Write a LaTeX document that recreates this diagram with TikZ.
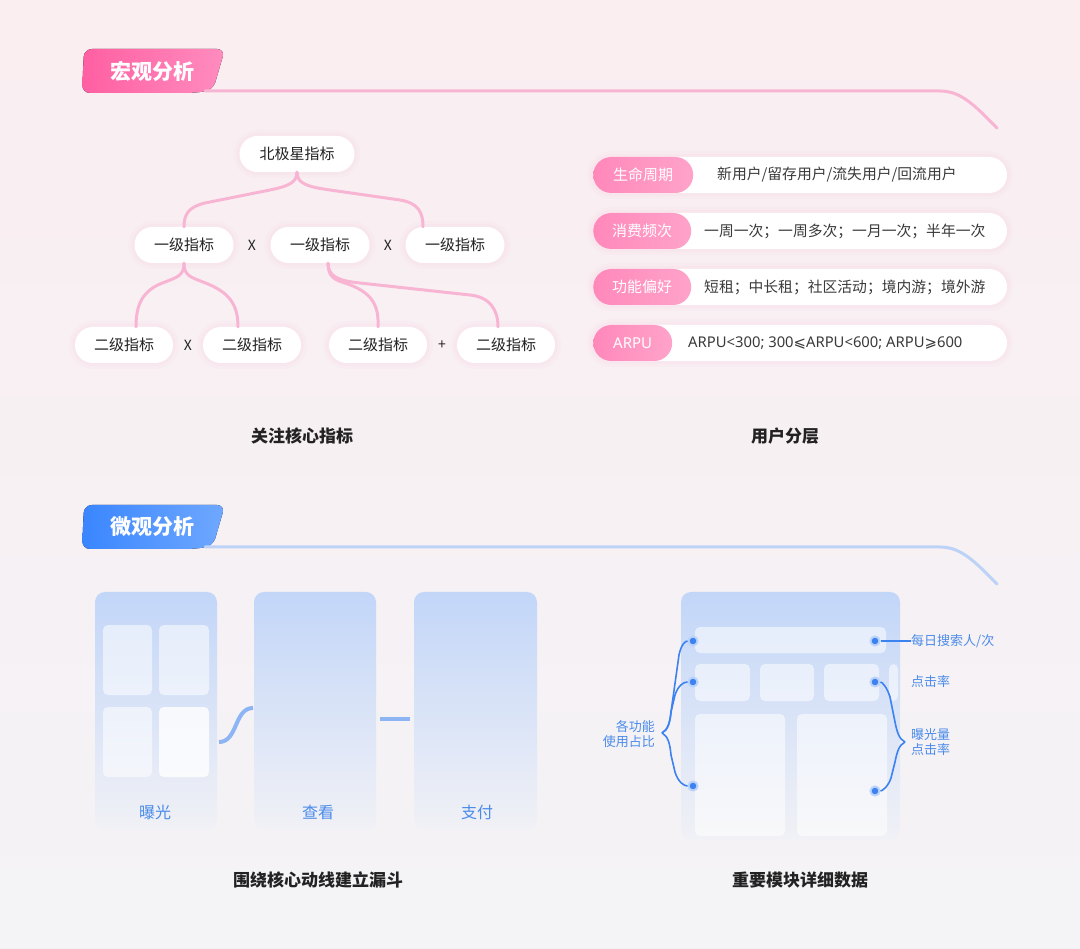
\documentclass[tikz,border=0pt]{standalone}
\usepackage{fontspec}
\setmainfont{Noto Sans CJK SC}
\newfontfamily\symf{DejaVu Sans}
\newfontfamily\latf{Noto Sans}
\usetikzlibrary{calc}
\definecolor{bgtop}{HTML}{FAEEF1}
\definecolor{bgbot}{HTML}{F4F3F6}
\definecolor{pinkA}{HTML}{FF5FA2}
\definecolor{pinkB}{HTML}{FF8CBE}
\definecolor{pinkline}{HTML}{F8B5D3}
\definecolor{pillA}{HTML}{FF88BA}
\definecolor{pillB}{HTML}{FFA3CA}
\definecolor{blueA}{HTML}{3A86FF}
\definecolor{blueB}{HTML}{6FA8FF}
\definecolor{blueline}{HTML}{BCD3F7}
\definecolor{panel}{HTML}{C2D6F8}
\definecolor{panelbot}{HTML}{F1F1F6}
\definecolor{bluetext}{HTML}{4A8BEA}
\definecolor{dotc}{HTML}{3C82F0}
\definecolor{conn}{HTML}{8DB5F5}
\definecolor{txt}{HTML}{222222}
\definecolor{txtgray}{HTML}{3A3A3A}
\tikzset{
  x=1pt,y=-1pt,
  glow/.style={preaction={draw=pinkline, line width=12pt, opacity=0.06},
               preaction={draw=pinkline, line width=6pt, opacity=0.08}},
  tn/.style={fill=white, rounded corners=18pt, minimum height=36pt, minimum width=99pt, inner sep=0pt,
    font=\fontsize{15}{15}\selectfont, text=txt, glow},
  tl/.style={draw=pinkline, line width=3pt, line cap=round},
  op/.style={font=\fontsize{14}{14}\selectfont, text=txt},
  rowbg/.style={fill=white, rounded corners=18pt, minimum height=36pt, minimum width=414pt, inner sep=0pt, glow},
  tag/.style={left color=pillA, right color=pillB, rounded corners=18pt, minimum height=36pt, inner sep=0pt,
    font=\fontsize{15}{15}\selectfont, text=white, anchor=west},
  rowtxt/.style={font=\fontsize{14.8}{14.8}\selectfont, text=txtgray, anchor=west, inner sep=0pt},
  captxt/.style={font=\fontsize{17}{17}\selectfont\bfseries, text=txt},
  hdr/.style={font=\fontsize{21}{21}\selectfont\bfseries, text=white},
  panelbox/.style={top color=panel, bottom color=panelbot, rounded corners=10pt, draw=none},
  card/.style={fill=white, fill opacity=0.55, rounded corners=5pt},
  flab/.style={font=\fontsize{16}{16}\selectfont, text=bluetext},
  mlab/.style={font=\fontsize{13}{15}\selectfont, text=bluetext, inner sep=0pt},
  dotn/.style={circle, fill=dotc, minimum size=9pt, inner sep=0pt, draw=dotc!35!white, line width=2pt},
  bl/.style={draw=dotc, line width=1.6pt},
  fc/.style={draw=conn, line width=4pt}
}
\begin{document}
\begin{tikzpicture}
\useasboundingbox (0,0) rectangle (1080,949);
\shade[top color=bgtop, bottom color=bgbot] (0,0) rectangle (1080,949);

% ===== header 1 =====
\fill[left color=pinkA, right color=pinkB, rounded corners=8pt]
  (84,49) -- (225,49) -- (213,90) -- (194,93) -- (82,93) -- cycle;
\node[hdr] (h1) at (152,71) {宏观分析};
\coordinate (h1s) at (205,91);
\coordinate (h1e) at (997,128);
\draw[pinkline, line width=3pt, line cap=round] (h1s) -- (940,91) .. controls (962,91) and (976,107) .. (h1e);

% ===== tree =====
\node[tn, minimum width=115pt] (ns) at (297,154) {北极星指标};
\node[tn] (l1a) at (184,245) {一级指标};
\node[tn] (l1b) at (320,245) {一级指标};
\node[tn] (l1c) at (455,245) {一级指标};
\node[op] (x1) at (252,245) {X};
\node[op] (x2) at (388,245) {X};
\node[tn, minimum width=98pt] (l2a) at (124,345) {二级指标};
\node[tn, minimum width=98pt] (l2b) at (252,345) {二级指标};
\node[tn, minimum width=98pt] (l2c) at (378,345) {二级指标};
\node[tn, minimum width=98pt] (l2d) at (506,345) {二级指标};
\node[op] (x3) at (188,345) {X};
\node[op] (p1) at (442,345) {+};

\draw[tl] (ns.south) .. controls +(0,12) and (285,187) .. (265,191) -- (205,203) .. controls (188,207) and (184,215) .. (l1a.north);
\draw[tl] (ns.south) .. controls +(0,12) and (309,187) .. (330,190) -- (400,200) .. controls (418,203) and (423,212) .. ($(l1c.north)+(-32,0)$);
\draw[tl] (l1a.south) .. controls +(0,12) and (178,277) .. (165,282) .. controls (142,290) and (136,305) .. ($(l2a.north)+(12,0)$);
\draw[tl] (l1a.south) .. controls +(0,12) and (190,277) .. (203,282) .. controls (230,292) and (238,305) .. ($(l2b.north)+(-14,0)$);
\draw[tl] ($(l1b.south)+(8,0)$) .. controls +(0,14) and (335,280) .. (345,283) .. controls (372,292) and (379,305) .. (l2c.north);
\draw[tl] ($(l1b.south)+(8,0)$) .. controls +(0,14) and (340,281) .. (360,283) -- (470,295) .. controls (490,297) and (498,310) .. ($(l2d.north)+(-8,0)$);

\node[captxt] (c1) at (302,436) {关注核心指标};

% ===== user segmentation =====
\node[rowbg] (r1) at (800,175) {};
\node[rowbg] (r2) at (800,231) {};
\node[rowbg] (r3) at (800,287) {};
\node[rowbg] (r4) at (800,343) {};
\node[tag, minimum width=100pt] (t1) at (593,175) {生命周期};
\node[tag, minimum width=98pt] (t2) at (593,231) {消费频次};
\node[tag, minimum width=98pt] (t3) at (593,287) {功能偏好};
\node[tag, minimum width=79pt] (t4) at (593,343) {\latf ARPU};
\node[rowtxt] (v1) at (717,175) {新用户/留存用户/流失用户/回流用户};
\node[rowtxt] (v2) at (704,231) {一周一次；一周多次；一月一次；半年一次};
\node[rowtxt] (v3) at (704,287) {短租；中长租；社区活动；境内游；境外游};
\node[rowtxt] (v4) at (688,343) {\latf ARPU<300; 300{\symf ⩽}ARPU<600; ARPU{\symf ⩾}600};
\node[captxt] (c2) at (785,436) {用户分层};

% ===== header 2 =====
\fill[left color=blueA, right color=blueB, rounded corners=8pt]
  (84,505) -- (225,505) -- (213,546) -- (194,549) -- (82,549) -- cycle;
\node[hdr] (h2) at (152,527) {微观分析};
\coordinate (h2s) at (205,547);
\coordinate (h2e) at (997,584);
\draw[blueline, line width=3pt, line cap=round] (h2s) -- (940,547) .. controls (962,547) and (976,563) .. (h2e);

% ===== funnel =====
\path[panelbox] (95,592) rectangle (217,830);
\path[panelbox] (254,592) rectangle (376,830);
\path[panelbox] (414,592) rectangle (537,830);
\fill[card] (103,625) rectangle (152,695);
\fill[card] (159,625) rectangle (209,695);
\fill[card] (103,707) rectangle (152,777);
\fill[white, fill opacity=0.8, rounded corners=5pt] (159,707) rectangle (209,777);
\node[flab] (f1) at (155,812) {曝光};
\node[flab] (f2) at (318,812) {查看};
\node[flab] (f3) at (477,812) {支付};
\coordinate (fa) at (219,742);
\coordinate (fb) at (253,708);
\draw[fc] (fa) .. controls (238,742) and (234,708) .. (fb);
\coordinate (fc1) at (380,719);
\coordinate (fc2) at (410,719);
\draw[fc] (fc1) -- (fc2);
\node[captxt] (c3) at (318,880) {围绕核心动线建立漏斗};

% ===== module =====
\path[panelbox] (681,592) rectangle (900,840);
\fill[card] (695,627) rectangle (886,653);
\fill[card] (695,664) rectangle (750,701);
\fill[card] (760,664) rectangle (814,701);
\fill[card] (824,664) rectangle (879,701);
\fill[card] (889,664) rectangle (898,701);
\fill[card] (695,714) rectangle (785,836);
\fill[card] (797,714) rectangle (887,836);

\node[dotn] (d1) at (693,641) {};
\node[dotn] (d2) at (693,682) {};
\node[dotn] (d3) at (693,786) {};
\node[dotn] (d4) at (875,641) {};
\node[dotn] (d5) at (875,682) {};
\node[dotn] (d6) at (875,791) {};

\node[mlab, anchor=west] (m1) at (911,641) {每日搜索人/次};
\node[mlab, anchor=west] (m2) at (911,682) {点击率};
\node[mlab, anchor=west, align=left] (m3) at (911,742) {曝光量\\点击率};
\node[mlab, anchor=east, align=right] (m4) at (655,734) {各功能\\使用占比};

\draw[bl] (d4) -- (m1.west);
\coordinate (lb) at (662,733);
\coordinate (rb) at (905,742);
\draw[bl] (lb) .. controls (668,730) and (670,722) .. (671,712) -- (679,655) .. controls (681,645) and (685,641) .. (d1);
\draw[bl] (lb) .. controls (668,730) and (670,722) .. (671,712) -- (675,695) .. controls (678,686) and (683,682) .. (d2);
\draw[bl] (lb) .. controls (668,736) and (670,744) .. (671,755) -- (675,772) .. controls (678,782) and (684,786) .. (d3);
\draw[bl] (rb) .. controls (899,739) and (897,732) .. (895,722) -- (890,697) .. controls (887,687) and (882,682) .. (d5);
\draw[bl] (rb) .. controls (899,745) and (897,752) .. (895,762) -- (891,778) .. controls (888,787) and (882,791) .. (d6);

\node[captxt] (c4) at (800,880) {重要模块详细数据};
\end{tikzpicture}
\end{document}
